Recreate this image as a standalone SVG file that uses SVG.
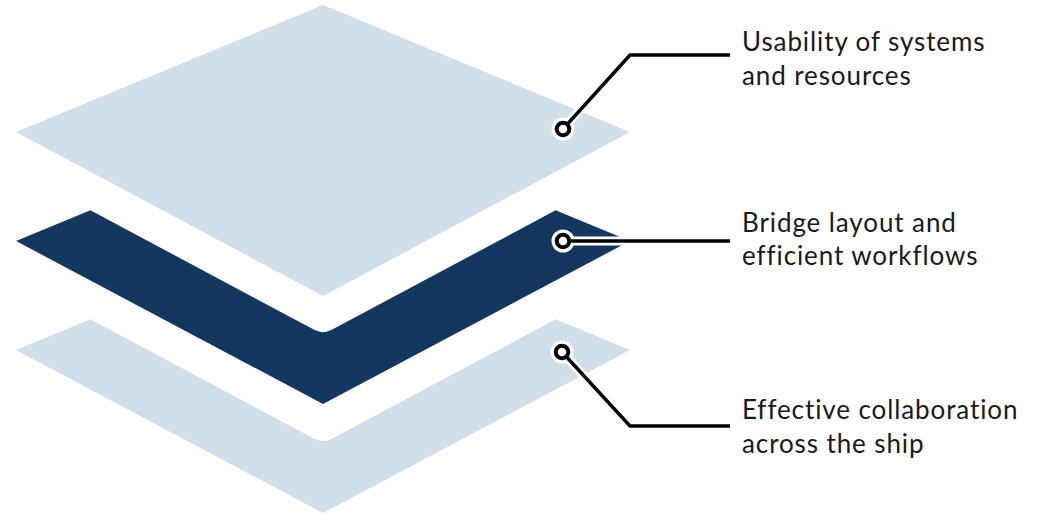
<svg xmlns="http://www.w3.org/2000/svg" width="1043" height="516" viewBox="0 0 1043 516">
<style>
.light{fill:#d1dfea}
.dark{fill:#143760}
.halo{fill:none;stroke:#ffffff;stroke-width:9;stroke-linejoin:miter}
.line{fill:none;stroke:#000000;stroke-width:3.4;stroke-linejoin:miter}
.dothalo{fill:#ffffff}
.dot{fill:#ffffff;stroke:#000000;stroke-width:4}
.lbl{font-family:Lato,"Liberation Sans",sans-serif;font-size:26px;letter-spacing:0.9px;fill:#1a1a1a}
</style>
<rect width="1043" height="516" fill="#ffffff"/>
<g id="layer-bottom">
<path class="light" d="M16,350 L90.4,319.3 L314.2,438.8 Q323,443.5 331.8,438.8 L555.6,319.3 L630,350 L323,513 Z"/>
</g>
<g id="layer-middle">
<path class="dark" d="M16,241 L90.4,210.3 L314.2,329.8 Q323,334.5 331.8,329.8 L555.6,210.3 L630,241 L323,404 Z"/>
</g>
<g id="layer-top">
<path class="light" d="M323,5 L630,132 L323,296 L16,132 Z"/>
</g>
<g id="connectors">
<path class="halo" d="M563,129 L630,55 L730,55"/>
<path class="halo" d="M563,241 L730,241"/>
<path class="halo" d="M562,352 L630,426 L730,426"/>
<circle class="dothalo" cx="563" cy="129" r="11.5"/>
<circle class="dothalo" cx="563" cy="241" r="11.5"/>
<circle class="dothalo" cx="562" cy="352" r="11.5"/>
<path class="line" d="M563,129 L630,55 L730,55"/>
<path class="line" d="M563,241 L730,241"/>
<path class="line" d="M562,352 L630,426 L730,426"/>
<circle class="dot" cx="563" cy="129" r="6.3"/>
<circle class="dot" cx="563" cy="241" r="6.3"/>
<circle class="dot" cx="562" cy="352" r="6.3"/>
</g>
<g id="label-top">
<text class="lbl" x="742" y="51">Usability of systems</text>
<text class="lbl" x="742" y="85">and resources</text>
</g>
<g id="label-middle">
<text class="lbl" x="742" y="232">Bridge layout and</text>
<text class="lbl" x="742" y="265">efficient workflows</text>
</g>
<g id="label-bottom">
<text class="lbl" x="742" y="419">Effective collaboration</text>
<text class="lbl" x="742" y="453">across the ship</text>
</g>
</svg>
